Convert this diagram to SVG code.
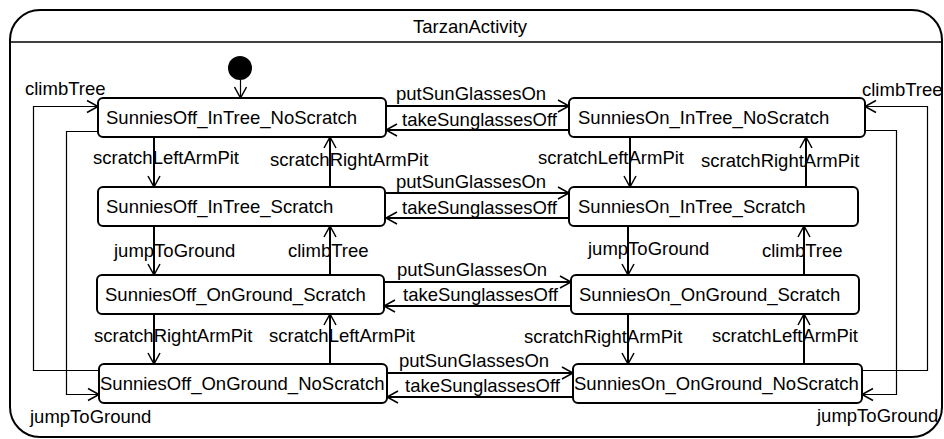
<svg xmlns="http://www.w3.org/2000/svg" width="944" height="439" viewBox="0 0 944 439">
<style>
text{font-family:"Liberation Sans",Arial,Helvetica,sans-serif;font-size:18.5px;fill:#000}
.node{fill:#fff;stroke:#000;stroke-width:2}
.frame{fill:#fff;stroke:#000;stroke-width:2}
.thick{fill:none;stroke:#000;stroke-width:2;marker-end:url(#arr)}
.thin{fill:none;stroke:#000;stroke-width:1.2;marker-end:url(#arr)}
</style>
<defs>
<marker id="arr" viewBox="-1 -8 14 16" refX="11" refY="0" markerWidth="14" markerHeight="16" orient="auto" markerUnits="userSpaceOnUse">
<path d="M0,-6 L11,0 L0,6" fill="none" stroke="#000" stroke-width="1.5"/>
</marker>
</defs>
<g id="TarzanActivity">
<rect class="frame" x="10" y="10" width="932" height="427" rx="30" ry="30"/>
<line x1="10" y1="42" x2="942" y2="42" stroke="#000" stroke-width="1.5"/>
<text x="470" y="33" text-anchor="middle">TarzanActivity</text>
</g>
<g id="initial">
<circle cx="240" cy="68" r="12" fill="#000"/>
</g>
<g id="connectors">
<path class="thin" d="M240.5,80 V98"/>
<path class="thick" d="M386,106 H569"/>
<path class="thick" d="M569,130 H386"/>
<path class="thick" d="M386,193 H569"/>
<path class="thick" d="M569,218 H386"/>
<path class="thick" d="M384,282 H571"/>
<path class="thick" d="M571,306 H384"/>
<path class="thick" d="M387,373 H573"/>
<path class="thick" d="M573,397 H387"/>
<path class="thick" d="M154,137 V187"/>
<path class="thick" d="M330,187 V137"/>
<path class="thick" d="M154,226 V275"/>
<path class="thick" d="M330,275 V226"/>
<path class="thick" d="M154,314 V364"/>
<path class="thick" d="M330,364 V314"/>
<path class="thick" d="M630,137 V187"/>
<path class="thick" d="M806,187 V137"/>
<path class="thick" d="M628,226 V275"/>
<path class="thick" d="M804,275 V226"/>
<path class="thick" d="M628,314 V364"/>
<path class="thick" d="M804,364 V314"/>
<path class="thin" d="M99,370.5 H33.5 V106.5 H98"/>
<path class="thin" d="M98,131.5 H66.5 V394.5 H99"/>
<path class="thin" d="M862,370.5 H927.5 V106.5 H865"/>
<path class="thin" d="M865,130.5 H896.5 V394.5 H862"/>
<text x="396" y="100">putSunGlassesOn</text>
<text x="402" y="126">takeSunglassesOff</text>
<text x="396" y="188">putSunGlassesOn</text>
<text x="402" y="214">takeSunglassesOff</text>
<text x="397" y="276">putSunGlassesOn</text>
<text x="403" y="301">takeSunglassesOff</text>
<text x="399" y="367">putSunGlassesOn</text>
<text x="405" y="392">takeSunglassesOff</text>
<text x="93" y="164">scratchLeftArmPit</text>
<text x="270" y="166">scratchRightArmPit</text>
<text x="114" y="257">jumpToGround</text>
<text x="288" y="257">climbTree</text>
<text x="94" y="342">scratchRightArmPit</text>
<text x="269" y="342">scratchLeftArmPit</text>
<text x="538" y="164">scratchLeftArmPit</text>
<text x="701" y="167">scratchRightArmPit</text>
<text x="588" y="255">jumpToGround</text>
<text x="762" y="257">climbTree</text>
<text x="524" y="343">scratchRightArmPit</text>
<text x="712" y="342">scratchLeftArmPit</text>
<text x="25" y="95">climbTree</text>
<text x="30" y="423">jumpToGround</text>
<text x="862" y="96">climbTree</text>
<text x="817" y="422">jumpToGround</text>
</g>
<g id="SunniesOff_InTree_NoScratch">
<rect class="node" x="98" y="98" width="288" height="39" rx="5"/>
<text x="106" y="124">SunniesOff_InTree_NoScratch</text>
</g>
<g id="SunniesOn_InTree_NoScratch">
<rect class="node" x="569" y="98" width="296" height="39" rx="5"/>
<text x="578" y="124">SunniesOn_InTree_NoScratch</text>
</g>
<g id="SunniesOff_InTree_Scratch">
<rect class="node" x="98" y="187" width="287" height="39" rx="5"/>
<text x="106" y="213">SunniesOff_InTree_Scratch</text>
</g>
<g id="SunniesOn_InTree_Scratch">
<rect class="node" x="569" y="187" width="289" height="39" rx="5"/>
<text x="578" y="213">SunniesOn_InTree_Scratch</text>
</g>
<g id="SunniesOff_OnGround_Scratch">
<rect class="node" x="97" y="275" width="287" height="39" rx="5"/>
<text x="105" y="301">SunniesOff_OnGround_Scratch</text>
</g>
<g id="SunniesOn_OnGround_Scratch">
<rect class="node" x="571" y="275" width="288" height="39" rx="5"/>
<text x="579" y="301">SunniesOn_OnGround_Scratch</text>
</g>
<g id="SunniesOff_OnGround_NoScratch">
<rect class="node" x="99" y="364" width="288" height="39" rx="5"/>
<text x="100" y="390">SunniesOff_OnGround_NoScratch</text>
</g>
<g id="SunniesOn_OnGround_NoScratch">
<rect class="node" x="573" y="364" width="289" height="39" rx="5"/>
<text x="574" y="390">SunniesOn_OnGround_NoScratch</text>
</g>
</svg>
